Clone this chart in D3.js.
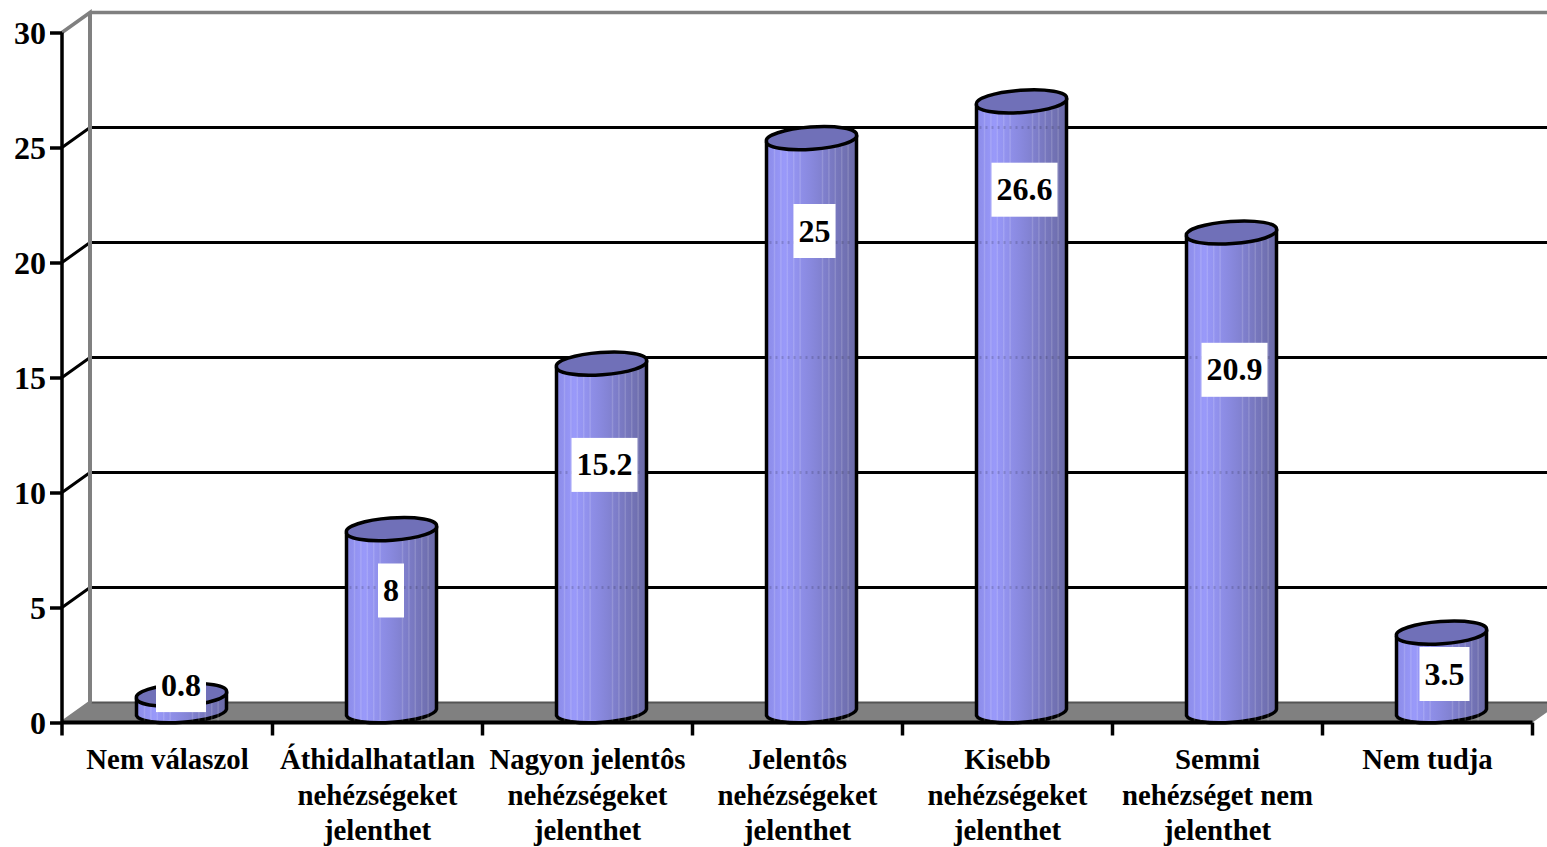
<!DOCTYPE html>
<html><head><meta charset="utf-8">
<script src="https://cdnjs.cloudflare.com/ajax/libs/d3/7.8.5/d3.min.js"></script>
<style>html,body{margin:0;padding:0;background:#fff;overflow:hidden}svg{display:block}
text{font-family:"Liberation Serif",serif;font-weight:bold;fill:#000}</style>
</head><body><svg id="c" width="1547" height="847"></svg>
<script>
const categories = ["Nem válaszol","Áthidalhatatlan nehézségeket jelenthet","Nagyon jelentôs nehézségeket jelenthet","Jelentôs nehézségeket jelenthet","Kisebb nehézségeket jelenthet","Semmi nehézséget nem jelenthet","Nem tudja"];
const categoryLines = [["Nem válaszol"],["Áthidalhatatlan","nehézségeket","jelenthet"],["Nagyon jelentôs","nehézségeket","jelenthet"],["Jelentôs","nehézségeket","jelenthet"],["Kisebb","nehézségeket","jelenthet"],["Semmi","nehézséget nem","jelenthet"],["Nem tudja"]];
const values = [0.8,8,15.2,25,26.6,20.9,3.5];
const yTicks = [0,5,10,15,20,25,30];
// hand-placed data label offsets from the bar top / centre (layout only)
const labelDx = [0,0,3.5,3.5,3.5,3.5,3.5];
const labelDy = [-19,52,92,83.5,79,128,32];
const labelW = [50,26,66,42,66,66,50];

const svg = d3.select("#c");
const y = d3.scaleLinear().domain([0,30]).range([722.5,32.5]);
const x = d3.scaleBand().domain(categories).range([62.5,1532.5]);
const dx=28, dy=-20, right=1532.5, W=1547;
const barW=90, rx=45.2, ry=10.5, tilt=-4, tiltDy=3.2;

// gradient
const defs=svg.append("defs");
const g=defs.append("linearGradient").attr("id","cyl");
[[0,"#8c8ce8"],[.2,"#9999fa"],[.5,"#8888dd"],[.75,"#7878c0"],[1,"#6a6aa6"]].forEach(([o,c])=>g.append("stop").attr("offset",o).attr("stop-color",c));

// floor
svg.append("path").attr("d",`M62,${y(0)}L${62+dx},${y(0)+dy}L${right+dx},${y(0)+dy}L${right},${y(0)}Z`).attr("fill","#808080");
svg.append("path").attr("d",`M${62+dx},${y(0)+dy}H${W}`).attr("stroke","#555").attr("stroke-width",2);
// walls
svg.append("path").attr("d",`M62,${y(0)}L${62+dx},${y(0)+dy}V${y(30)+dy}L62,${y(30)}M${62+dx},${y(30)+dy}H${W}`).attr("fill","none").attr("stroke","#808080").attr("stroke-width",3.5);
// grid
yTicks.filter(t=>t>0&&t<30).forEach(t=>{
  svg.append("path").attr("d",`M62,${y(t)}L${62+dx},${y(t)+dy}H${W}`).attr("fill","none").attr("stroke","#000").attr("stroke-width",3);
});
svg.append("path").attr("d",`M${62+dx},${y(0)+dy}V${y(30)+dy}`).attr("stroke","#808080").attr("stroke-width",4);

// y axis
const ya=svg.append("g").attr("transform","translate(62,0)").call(d3.axisLeft(y).tickValues(yTicks).tickSize(12).tickPadding(4));
ya.selectAll("text").attr("transform","translate(0,0.5)").style("font-size","32px").style("font-family",'"Liberation Serif",serif').style("font-weight","bold");
ya.selectAll("line,path").attr("stroke","#000").attr("stroke-width",3.5);
ya.select(".domain").attr("d",`M0,${y(30)}V${y(0)+13}`);
// x axis
const xa=svg.append("g").attr("transform",`translate(0,${y(0)})`).call(d3.axisBottom(x).tickSize(0).tickFormat(""));
xa.select(".domain").attr("d",`M62,0H${right}`).attr("stroke","#000").attr("stroke-width",4);
xa.selectAll(".tick").remove();
categories.forEach(c=>xa.append("line").attr("x1",x(c)+x.bandwidth()).attr("x2",x(c)+x.bandwidth()).attr("y1",0).attr("y2",13).attr("stroke","#000").attr("stroke-width",3.5));
categories.forEach((c,i)=>{
  const t=svg.append("text").attr("text-anchor","middle").style("font-size","28.8px");
  categoryLines[i].forEach((l,j)=>t.append("tspan").attr("x",x(c)+x.bandwidth()/2).attr("y",769+j*35.5).text(l));
});

// bars
const bars=svg.append("g").selectAll("g").data(values).join("g");
bars.each(function(v,i){
  const cx=x(categories[i])+x.bandwidth()/2+dx/2, top=y(v)-9.3, bot=y(0)-10, hw=barW/2;
  const s=d3.select(this);
  s.append("path").attr("d",`M${cx-hw},${top+tiltDy}V${bot+tiltDy}A${rx},${ry} ${tilt} 0 0 ${cx+hw},${bot-tiltDy}V${top-tiltDy}Z`)
   .attr("fill","url(#cyl)").attr("stroke","#000").attr("stroke-width",3.5).attr("stroke-linejoin","round");
  d3.range(0,12).forEach(k=>{
    const sx=cx-hw+8+k*6.4+(k>4?16:0);
    if(sx<cx+hw-3) s.append("line").attr("x1",sx).attr("x2",sx).attr("y1",top+6).attr("y2",bot+8).attr("stroke","#fff").attr("stroke-opacity",.15).attr("stroke-width",1.5);
  });
  // gridlines faintly showing through the stripes
  yTicks.filter(t=>t>0&&t<30&&y(t)+dy>top+14&&y(t)+dy<bot).forEach(t=>{
    s.append("line").attr("x1",cx-hw+3).attr("x2",cx+hw-3).attr("y1",y(t)+dy).attr("y2",y(t)+dy)
     .attr("stroke","#000").attr("stroke-opacity",.15).attr("stroke-width",3).attr("stroke-dasharray","2 4");
  });
  s.append("path").attr("d",`M${cx-hw},${top+tiltDy}A${rx},${ry} ${tilt} 1 1 ${cx+hw},${top-tiltDy}A${rx},${ry} ${tilt} 1 1 ${cx-hw},${top+tiltDy}Z`)
   .attr("fill","#7070b8").attr("stroke","#000").attr("stroke-width",3.5);
});
// data labels
values.forEach((v,i)=>{
  const cx=x(categories[i])+x.bandwidth()/2+dx/2+labelDx[i]-.5, cy=y(v)+labelDy[i];
  svg.append("rect").attr("x",cx-labelW[i]/2).attr("y",cy-27).attr("width",labelW[i]).attr("height",54).attr("fill","#fff");
  svg.append("text").attr("x",cx).attr("y",cy+10.5).attr("text-anchor","middle").style("font-size","32px").text(v);
});
</script></body></html>
